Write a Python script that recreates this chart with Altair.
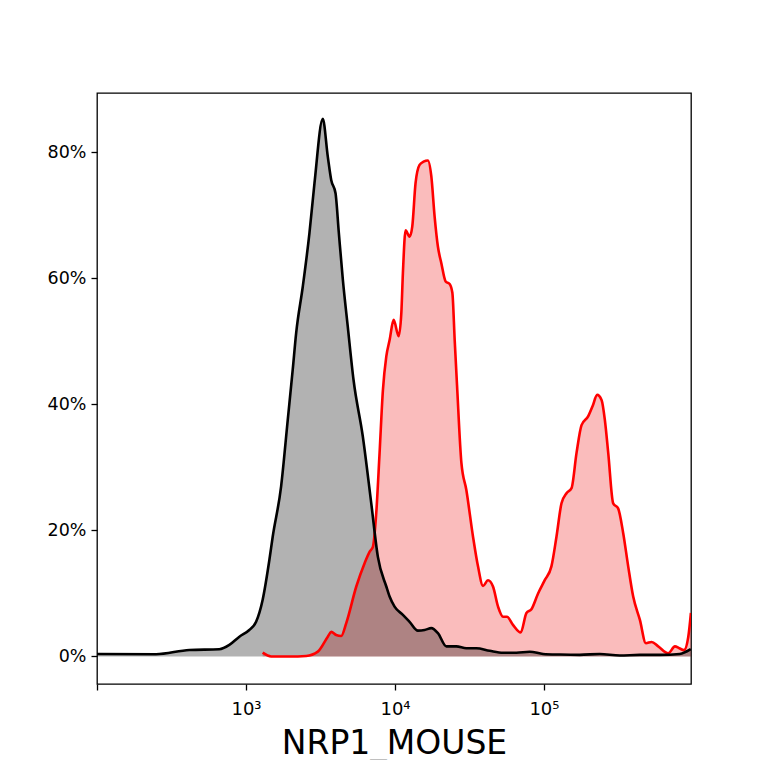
import altair as alt
import pandas as pd

# Control (black) histogram: NRP1 intensity vs % of max
black_x = [100, 249, 417, 662, 773, 903, 1052, 1169, 1294, 1435, 1511, 1721, 1906, 2059,
           2171, 2406, 2667, 2882, 3276, 3540, 3732, 3990, 4199, 4467, 4823, 5268, 6083,
           6930, 7677, 8745, 9202, 9936, 11300, 12530, 14250, 15810, 17530, 19420, 22120,
           25820, 30130, 35170, 43220, 53100, 65300, 80300, 98600, 127700, 173800, 237000,
           322800, 439700, 598800, 816000, 967000]
black_y = [0.4, 0.35, 1.03, 1.14, 1.83, 3.14, 4.2, 5.5, 9.0, 15.3, 19.0, 27.0, 37.5, 45.5,
           51.3, 58.7, 67.2, 75.1, 85.3, 79.3, 75.6, 73.5, 67.2, 59.8, 52.3, 43.9, 34.9,
           24.3, 15.8, 11.1, 9.5, 7.9, 6.6, 5.5, 4.1, 4.2, 4.5, 3.7, 1.6,
           1.6, 1.3, 1.3, 0.9, 0.6, 0.6, 0.75, 0.4, 0.3, 0.25, 0.4,
           0.15, 0.25, 0.25, 0.4, 1.15]

# Stained (red) histogram
red_x = [1294, 1476, 1958, 2536, 3034, 3540, 3732, 4032, 4356, 4710, 5499, 6252, 6750,
         7107, 7489, 7882, 8301, 8745, 9202, 9795, 10580, 11030, 11300, 11780, 12530,
         13060, 13740, 14620, 15550, 16630, 17530, 18450, 19420, 20470, 21880, 23270,
         24270, 25160, 26080, 27910, 30130, 33400, 36070, 38980, 42090, 45480, 49170,
         53100, 56500, 61950, 69800, 76260, 82390, 91300, 101200, 112200, 121300, 131100,
         141700, 153100, 165400, 178700, 197800, 211800, 227500, 243500, 256300, 269900,
         291400, 314600, 340000, 367500, 397000, 440300, 483100, 527500, 584400, 682600,
         756700, 809200, 870300, 929900, 968800]
red_y = [0.6, 0.0, 0.0, 0.08, 0.76, 3.14, 3.9, 3.4, 3.25, 5.3, 11.1, 14.8, 16.6,
         17.4, 22.8, 32.3, 42.3, 47.6, 50.2, 53.4, 50.8, 54.5, 60.8, 67.6, 66.6,
         68.2, 75.1, 78.0, 78.5, 78.7, 76.2, 69.8, 65.0, 62.4, 59.5, 59.1,
         57.7, 50.2, 43.1, 30.7, 26.4, 19.0, 14.3, 11.2, 12.1, 11.1, 7.9,
         6.3, 6.3, 5.0, 3.8, 6.9, 7.5, 10.0, 12.1, 14.3, 19.0, 24.3,
         25.9, 26.7, 32.3, 36.7, 38.1, 39.7, 41.5, 40.7, 37.5, 32.3,
         24.3, 23.5, 19.6, 14.3, 9.5, 5.8, 2.1, 2.3, 1.6, 0.5,
         1.6, 1.3, 1.0, 3.1, 6.9]

x_ticks = [100, 1000, 10000, 100000]
y_ticks = [0, 20, 40, 60, 80]
x_title = "NRP1_MOUSE"

black_df = pd.DataFrame({"x": black_x, "y": black_y})
red_df = pd.DataFrame({"x": red_x, "y": red_y})

FONT = "DejaVu Sans"

xscale = alt.Scale(type="log", domain=[100, 970000], nice=False)
yscale = alt.Scale(domain=[-4.37, 89.4], nice=False, zero=False)

xaxis = alt.Axis(
    values=x_ticks,
    labelExpr="datum.value == 1000 ? '10³' : datum.value == 10000 ? '10⁴' : datum.value == 100000 ? '10⁵' : ''",
    title=x_title, titleFontSize=33, titleFontWeight="normal", titleFont=FONT,
    titleColor="black", titlePadding=9,
    labelFont=FONT, labelFontSize=18, labelColor="black", labelPadding=10,
    tickSize=6, tickWidth=1.3, tickColor="black", domain=False, grid=False,
    labelFlush=False,
)
yaxis = alt.Axis(
    values=y_ticks,
    labelExpr="datum.value + '%'",
    title=None,
    labelFont=FONT, labelFontSize=17.5, labelColor="black", labelPadding=5,
    tickSize=6, tickWidth=1.3, tickColor="black", domain=False, grid=False,
)

red_area = alt.Chart(red_df).mark_area(color="#ee2020", opacity=0.3, clip=True, interpolate="monotone").encode(
    x=alt.X("x:Q", scale=xscale, axis=xaxis),
    y=alt.Y("y:Q", scale=yscale, axis=yaxis),
    y2=alt.datum(0),
)
black_area = alt.Chart(black_df).mark_area(color="black", opacity=0.3, clip=True, interpolate="monotone").encode(
    x=alt.X("x:Q", scale=xscale),
    y=alt.Y("y:Q", scale=yscale),
    y2=alt.datum(0),
)
red_line = alt.Chart(red_df).mark_line(color="red", strokeWidth=2.6, clip=True, interpolate="monotone").encode(
    x=alt.X("x:Q", scale=xscale),
    y=alt.Y("y:Q", scale=yscale),
)
black_line = alt.Chart(black_df).mark_line(color="black", strokeWidth=2.6, clip=True, interpolate="monotone").encode(
    x=alt.X("x:Q", scale=xscale),
    y=alt.Y("y:Q", scale=yscale),
)

chart = alt.layer(red_area, black_area, red_line, black_line).properties(
    width=594, height=591,
    autosize=alt.AutoSizeParams(type="none"),
    padding={"left": 89, "top": 85, "right": 60, "bottom": 76},
    background="white",
).configure_view(stroke="black", strokeWidth=1.3)

chart.save("out.html", embed_options={"renderer": "svg", "actions": False})
